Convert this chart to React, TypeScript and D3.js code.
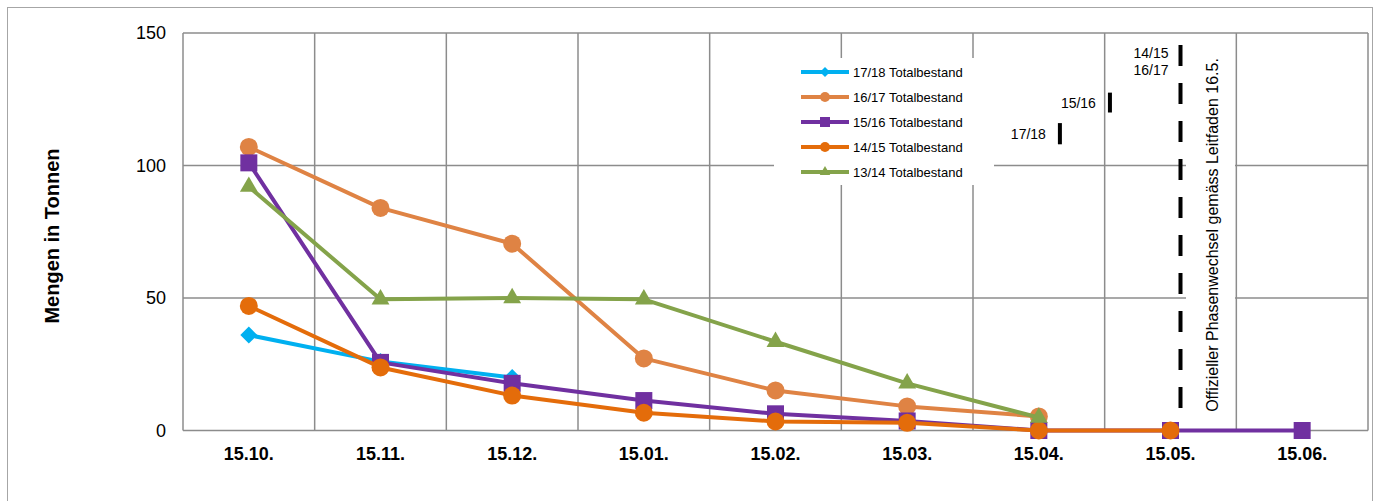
import React, { useEffect, useRef } from "react";
import * as d3 from "d3";

// categories (x axis)
const categories = ["15.10.", "15.11.", "15.12.", "15.01.", "15.02.", "15.03.", "15.04.", "15.05.", "15.06."];

// series values in tonnes (null = no value)
const s1718: (number | null)[] = [36, 26, 20, null, null, null, null, null, null];
const s1617: (number | null)[] = [107, 84, 70.5, 27.2, 15.1, 9.1, 5.3, null, null];
const s1516: (number | null)[] = [101, 25.7, 17.8, 11.3, 6.3, 3.6, 0, 0, 0];
const s1415: (number | null)[] = [47, 23.8, 13.2, 6.7, 3.4, 2.9, 0, 0, null];
const s1314: (number | null)[] = [92, 49.5, 50, 49.5, 33.5, 17.8, 4.9, null, null];

const seriesNames = ["17/18 Totalbestand", "16/17 Totalbestand", "15/16 Totalbestand", "14/15 Totalbestand", "13/14 Totalbestand"];
const seriesColors = ["#00B0F0", "#DF8344", "#7030A0", "#E46C0A", "#84A34A"];
const seriesMarkers = ["diamond", "circle", "square", "circle", "triangle"];

const yTicks = [0, 50, 100, 150];

// phase change marks: label, category position (fractional index), top/bottom value
const phaseMarks = [
  { labels: ["17/18"], at: 6.16, from: 116, to: 108 },
  { labels: ["15/16"], at: 6.54, from: 127.5, to: 120 },
];

const markerPath = (kind: string, s: number) => {
  if (kind === "diamond") return `M0,${-s}L${s},0L0,${s}L${-s},0Z`;
  if (kind === "circle") return d3.symbol(d3.symbolCircle, Math.PI * s * s)()!;
  if (kind === "square") return d3.symbol(d3.symbolSquare, 4 * s * s)()!;
  return d3.symbol(d3.symbolTriangle, (Math.sqrt(3) / 4) * (2.1 * s) * (2.1 * s))()!;
};

export default function App() {
  const svgRef = useRef<SVGSVGElement | null>(null);

  useEffect(() => {
    if (!svgRef.current) return;
    const W = 1378, H = 501;
    const margin = { top: 33, right: 10, bottom: 71, left: 183 };
    const svg = d3.select(svgRef.current).attr("width", W).attr("height", H);
    svg.selectAll("*").remove();

    const font = "Liberation Sans, Arial, sans-serif";
    const gridColor = "#8C8C8C";

    // outer chart border
    svg.append("rect")
      .attr("x", 7.5).attr("y", 7.5).attr("width", 1365).attr("height", 520)
      .attr("fill", "white").attr("stroke", "#A6A6A6").attr("stroke-width", 1);

    const x = d3.scaleBand<string>()
      .domain(categories)
      .range([margin.left, 1368]);

    const y = d3.scaleLinear()
      .domain([0, 150])
      .range([H - margin.bottom + 0.5, margin.top]);

    const xc = (i: number) => (x(categories[0]) as number) + x.bandwidth() * (i + 0.5);

    // grid
    const grid = svg.append("g");
    yTicks.forEach((t) => {
      grid.append("line")
        .attr("x1", margin.left).attr("x2", 1368)
        .attr("y1", y(t)).attr("y2", y(t))
        .attr("stroke", gridColor).attr("stroke-width", 1.5);
    });
    d3.range(categories.length + 1).forEach((i) => {
      const gx = margin.left + i * x.bandwidth();
      grid.append("line")
        .attr("x1", gx).attr("x2", gx)
        .attr("y1", y(150)).attr("y2", y(0))
        .attr("stroke", gridColor).attr("stroke-width", 1.5);
    });

    // y tick labels
    svg.append("g")
      .selectAll("text")
      .data(yTicks)
      .join("text")
      .attr("x", 166)
      .attr("y", (d) => y(d))
      .attr("dy", "0.35em")
      .attr("text-anchor", "end")
      .attr("font-family", font)
      .attr("font-size", 18)
      .attr("fill", "#000")
      .text((d) => d);

    // x tick labels
    svg.append("g")
      .selectAll("text")
      .data(categories)
      .join("text")
      .attr("x", (d, i) => xc(i))
      .attr("y", 460)
      .attr("text-anchor", "middle")
      .attr("font-family", font)
      .attr("font-weight", "bold")
      .attr("font-size", 18)
      .attr("fill", "#000")
      .text((d) => d);

    // y axis title
    svg.append("text")
      .attr("transform", `translate(59,236) rotate(-90)`)
      .attr("text-anchor", "middle")
      .attr("font-family", font)
      .attr("font-weight", "bold")
      .attr("font-size", 20)
      .attr("fill", "#000")
      .text("Mengen in Tonnen");

    // legend box (white, covers the grid)
    const legend = svg.append("g");
    legend.append("rect")
      .attr("x", 774).attr("y", 58).attr("width", 220).attr("height", 127)
      .attr("fill", "white");

    // phase change text box
    svg.append("rect")
      .attr("x", 1186).attr("y", 40).attr("width", 49).attr("height", 385)
      .attr("fill", "white");

    svg.append("text")
      .attr("transform", `translate(1218,235) rotate(-90)`)
      .attr("text-anchor", "middle")
      .attr("font-family", font)
      .attr("font-size", 16)
      .attr("fill", "#000")
      .text("Offizieller Phasenwechsel gemäss Leitfaden 16.5.");

    // official phase change line (14/15, 16/17)
    const phaseX = xc(7) + 10;
    svg.append("line")
      .attr("x1", phaseX).attr("x2", phaseX)
      .attr("y1", y(145.5)).attr("y2", y(8.5))
      .attr("stroke", "#000").attr("stroke-width", 4)
      .attr("stroke-dasharray", "21,17");
    svg.append("text")
      .attr("x", phaseX - 12).attr("y", 58)
      .attr("text-anchor", "end")
      .attr("font-family", font).attr("font-size", 14)
      .text("14/15");
    svg.append("text")
      .attr("x", phaseX - 12).attr("y", 75)
      .attr("text-anchor", "end")
      .attr("font-family", font).attr("font-size", 14)
      .text("16/17");

    // other phase marks
    phaseMarks.forEach((m) => {
      const px = xc(m.at);
      svg.append("line")
        .attr("x1", px).attr("x2", px)
        .attr("y1", y(m.from)).attr("y2", y(m.to))
        .attr("stroke", "#000").attr("stroke-width", 4);
      svg.append("text")
        .attr("x", px - 14).attr("y", (y(m.from) + y(m.to)) / 2 + 5)
        .attr("text-anchor", "end")
        .attr("font-family", font).attr("font-size", 14)
        .text(m.labels[0]);
    });

    // series lines and markers
    const allSeries = [s1718, s1617, s1516, s1415, s1314];
    const line = d3.line<number | null>()
      .defined((d) => d !== null)
      .x((d, i) => xc(i))
      .y((d) => y(d as number));

    allSeries.forEach((data, k) => {
      svg.append("path")
        .datum(data)
        .attr("fill", "none")
        .attr("stroke", seriesColors[k])
        .attr("stroke-width", 4)
        .attr("stroke-linejoin", "round")
        .attr("d", line);

      svg.append("g")
        .selectAll("path")
        .data(data.map((v, i) => ({ v, i })).filter((d) => d.v !== null))
        .join("path")
        .attr("transform", (d) => `translate(${xc(d.i)},${y(d.v as number)})`)
        .attr("d", markerPath(seriesMarkers[k], seriesMarkers[k] === "circle" ? 9 : 8.5))
        .attr("fill", seriesColors[k]);
    });

    // legend entries
    seriesNames.forEach((name, k) => {
      const ly = 72 + k * 25;
      legend.append("line")
        .attr("x1", 801).attr("x2", 849)
        .attr("y1", ly).attr("y2", ly)
        .attr("stroke", seriesColors[k]).attr("stroke-width", 4);
      legend.append("path")
        .attr("transform", `translate(825,${ly})`)
        .attr("d", markerPath(seriesMarkers[k], 5))
        .attr("fill", seriesColors[k]);
      legend.append("text")
        .attr("x", 853).attr("y", ly + 4.5)
        .attr("font-family", font).attr("font-size", 13)
        .attr("fill", "#000")
        .text(name);
    });
  }, []);

  return (
    <div style={{ position: "absolute", left: 0, top: 0 }}>
      <svg ref={svgRef} style={{ display: "block" }} />
    </div>
  );
}
